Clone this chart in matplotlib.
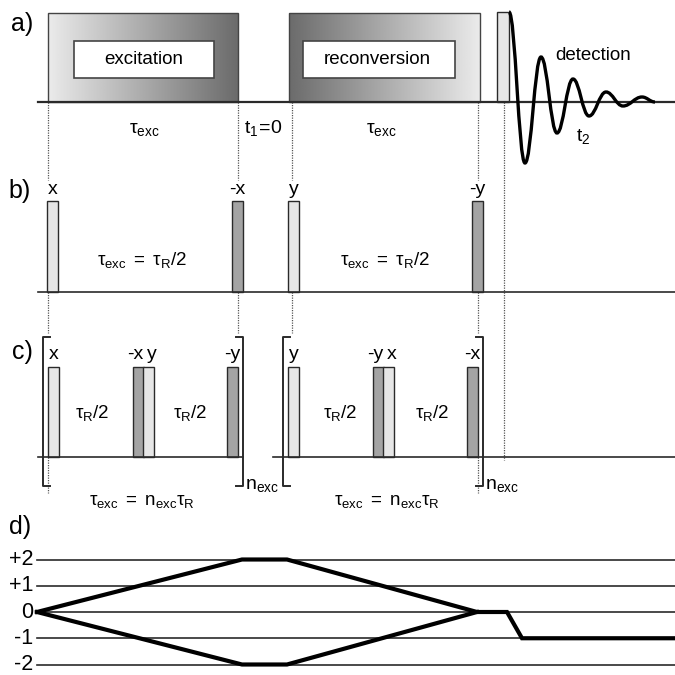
import numpy as np
import matplotlib
matplotlib.use("Agg")
import matplotlib.pyplot as plt
from matplotlib.patches import Rectangle, PathPatch
from matplotlib.path import Path

plt.rcParams['font.family'] = ['Liberation Sans', 'DejaVu Sans']
plt.rcParams['mathtext.fontset'] = 'custom'
plt.rcParams['mathtext.rm'] = 'Liberation Sans'
plt.rcParams['mathtext.it'] = 'Liberation Sans'

# panel a: blocks on the time axis (px)
blocks = ['excitation', 'reconversion']
block_start = [48, 289]
block_end = [238, 480]
detect_pulse = [497, 509]
# FID extrema (time, amplitude above baseline)
fid_t = [509, 525, 541, 557, 573, 589, 606, 623, 642, 655]
fid_amp = [90, -61, 45, -31, 23, -14, 10, -4, 5, 0]

# panel b: pulses
b_pulse_t = [47, 232, 288, 472]
b_phase = ['x', '-x', 'y', '-y']

# panel c: pulses
c_pulse_t = [48, 133, 143, 227, 288, 373, 383, 467]
c_phase = ['x', '-x', 'y', '-y', 'y', '-y', 'x', '-x']
c_bracket_t = [(43, 243), (283, 483)]

# panel d: coherence orders and pathways
orders = [2, 1, 0, -1, -2]
order_labels = ['+2', '+1', '0', '-1', '-2']
path_up_t = [37, 242, 287, 477, 507, 522, 675]
path_up_p = [0, 2, 2, 0, 0, -1, -1]
path_dn_t = [37, 242, 287, 477]
path_dn_p = [0, -2, -2, 0]

# dotted markers (time, [(y0, y1), ...])
markers = {48: [(102, 180), (292, 333), (457, 493)],
           238: [(102, 180), (292, 333)],
           292: [(102, 180), (292, 333)],
           478: [(102, 180), (292, 333), (457, 493)],
           504: [(102, 460)]}

ya, yb, yc = 102, 292, 457
ink = '#2a2a2a'
light = '#e6e6e6'
dark = '#a4a4a4'
pw = 11

fig = plt.figure(figsize=(6.75, 6.75), dpi=100)
ax = fig.add_axes([0, 0, 1, 1])
ax.set_xlim(0, 675)
ax.set_ylim(675, 0)
ax.axis('off')

# dotted connectors
for xm, segs in markers.items():
    for y0, y1 in segs:
        ax.plot([xm, xm], [y0, y1], color='#555555', lw=0.9, ls=(0, (1, 1)), zorder=1)

# ---- a) ----
grad = np.linspace(0.92, 0.42, 256)[None, :]
for i, name in enumerate(blocks):
    g = grad if i == 0 else grad[:, ::-1]
    ax.imshow(g, cmap='gray', vmin=0, vmax=1, aspect='auto',
              extent=(block_start[i], block_end[i], ya, 13), zorder=2)
    ax.add_patch(Rectangle((block_start[i], 13), block_end[i] - block_start[i], ya - 13,
                           fill=False, ec='#444444', lw=1.0, zorder=3))
inner = [(74, 214), (303, 455)]
for (x0, x1), name in zip(inner, blocks):
    ax.add_patch(Rectangle((x0, 41), x1 - x0, 37, fc='white', ec='#444444', lw=1.2, zorder=3))
    ax.text((x0 + x1) / 2 + (-2 if name == 'reconversion' else 0), 60, name,
            ha='center', va='center', fontsize=13.5, zorder=4)

ax.add_patch(Rectangle((detect_pulse[0], 12), detect_pulse[1] - detect_pulse[0], ya - 12,
                       fc=light, ec=ink, lw=1.0, zorder=3))

verts = [(fid_t[0], ya - fid_amp[0])]
codes = [Path.MOVETO]
for i in range(len(fid_t) - 1):
    x0, y0 = fid_t[i], ya - fid_amp[i]
    x1, y1 = fid_t[i + 1], ya - fid_amp[i + 1]
    dx = x1 - x0
    verts += [(x0 + 0.4 * dx, y0), (x1 - 0.4 * dx, y1), (x1, y1)]
    codes += [Path.CURVE4] * 3
ax.add_patch(PathPatch(Path(verts, codes), fill=False, ec='black', lw=2.4, zorder=5))

ax.plot([38, 675], [ya, ya], color=ink, lw=1.6, zorder=4)
ax.text(593, 56, 'detection', ha='center', va='center', fontsize=13.5)
ax.text(583, 137, r'$\mathrm{t}_2$', ha='center', va='center', fontsize=14)
ax.text(144, 130, r'$\tau_{\mathrm{exc}}$', ha='center', va='center', fontsize=14)
ax.text(263, 128, r'$\mathrm{t}_1\!=\!0$', ha='center', va='center', fontsize=14)
ax.text(381, 130, r'$\tau_{\mathrm{exc}}$', ha='center', va='center', fontsize=14)

# ---- b) ----
for t, ph in zip(b_pulse_t, b_phase):
    ax.add_patch(Rectangle((t, 201), pw, yb - 201, fc=dark if ph.startswith('-') else light,
                           ec=ink, lw=1.0, zorder=3))
    ax.text(t + pw / 2, 194, ph, ha='center', va='baseline', fontsize=14)
ax.plot([38, 675], [yb, yb], color=ink, lw=1.2, zorder=4)
for xc in [142, 385]:
    ax.text(xc, 260, r'$\tau_{\mathrm{exc}}\ =\ \tau_{\mathrm{R}}/2$', ha='center', va='center', fontsize=13.5)

# ---- c) ----
for i, (t, ph) in enumerate(zip(c_pulse_t, c_phase)):
    ax.add_patch(Rectangle((t, 367), pw, yc - 367, fc=dark if ph.startswith('-') else light,
                           ec=ink, lw=1.0, zorder=3))
    nudge = 0
    if i + 1 < len(c_pulse_t) and c_pulse_t[i + 1] - t <= pw:
        nudge = -3
    elif i > 0 and t - c_pulse_t[i - 1] <= pw:
        nudge = 3
    ax.text(t + pw / 2 + nudge, 359, ph, ha='center', va='baseline', fontsize=14)
ax.plot([38, 243], [yc, yc], color=ink, lw=1.2, zorder=4)
ax.plot([273, 675], [yc, yc], color=ink, lw=1.2, zorder=4)
for x0, x1 in c_bracket_t:
    ax.plot([x0 + 7, x0, x0, x0 + 7], [337, 337, 486, 486], color=ink, lw=1.4, zorder=4)
    ax.plot([x1 - 7, x1, x1, x1 - 7], [337, 337, 486, 486], color=ink, lw=1.4, zorder=4)
    ax.text(x1 + 19, 486, r'$\mathrm{n}_{\mathrm{exc}}$', ha='center', va='center', fontsize=14)
for xc in [92, 190, 340, 432]:
    ax.text(xc, 413, r'$\tau_{\mathrm{R}}/2$', ha='center', va='center', fontsize=13.5)
for xc in [142, 387]:
    ax.text(xc, 501, r'$\tau_{\mathrm{exc}}\ =\ \mathrm{n}_{\mathrm{exc}}\tau_{\mathrm{R}}$',
            ha='center', va='center', fontsize=13.5)

# ---- d) ----
axd = fig.add_axes([0, 0, 1, 126 / 675])
axd.set_xlim(0, 675)
axd.set_ylim(-2.4, 2.4)
axd.axis('off')
for p, lab in zip(orders, order_labels):
    axd.plot([37, 675], [p, p], color=ink, lw=1.2)
    axd.text(33, p, lab, ha='right', va='center', fontsize=15.5)
axd.plot(path_up_t, path_up_p, color='black', lw=3, solid_joinstyle='miter')
axd.plot(path_dn_t, path_dn_p, color='black', lw=3, solid_joinstyle='miter')

for lab, (xl, yl) in zip(['a)', 'b)', 'c)', 'd)'], [(22, 24), (20, 191), (22, 352), (20, 527)]):
    ax.text(xl, yl, lab, ha='center', va='center', fontsize=18)

fig.savefig('out.png', dpi=100)
